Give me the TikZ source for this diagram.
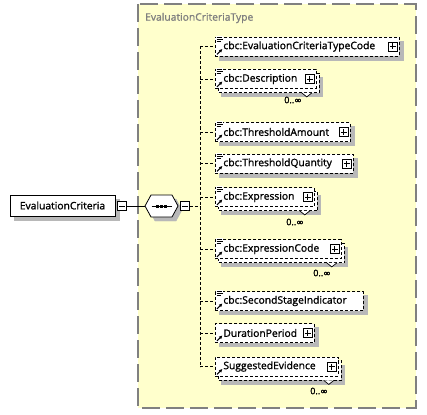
\documentclass[tikz,border=0pt]{standalone}
\usepackage{fontspec}
\setmainfont{Open Sans}[FakeBold=1.3]
\newfontfamily\symfont{DejaVu Sans}[FakeBold=1]
\usetikzlibrary{calc,arrows.meta}
\definecolor{bgyellow}{RGB}{255,255,204}
\definecolor{bordergray}{RGB}{128,128,128}
\definecolor{dropgray}{rgb}{0.72,0.72,0.72}
\tikzset{
  txt/.style={font=\fontsize{10.3}{12}\selectfont},
  elem/.style={draw=black, fill=white, dash pattern=on 3pt off 2pt, line width=0.8pt,
    minimum height=19pt, inner xsep=0pt, inner ysep=0pt, anchor=west, align=left, txt},
  pm/.style={draw=black, solid, fill=white, line width=0.7pt, minimum size=9pt, inner sep=0pt},
  plusbox/.style={pm, path picture={
      \draw[line width=0.7pt] ([xshift=1.5pt]path picture bounding box.west) -- ([xshift=-1.5pt]path picture bounding box.east);
      \draw[line width=0.7pt] ([yshift=-1.5pt]path picture bounding box.north) -- ([yshift=1.5pt]path picture bounding box.south);}},
  minusbox/.style={pm, path picture={
      \draw[line width=0.7pt] ([xshift=1.5pt]path picture bounding box.west) -- ([xshift=-1.5pt]path picture bounding box.east);}},
  conn/.style={line width=0.8pt, dash pattern=on 3pt off 2pt},
  mult/.style={font=\fontsize{9}{11}\selectfont},
  copybox/.style={fill=white, draw=black, line width=0.8pt, dash pattern=on 3pt off 2pt},
  shadowbox/.style={fill=dropgray, draw=dropgray, line width=0.5pt, minimum height=19pt, inner sep=0pt, anchor=west},
}
\newcommand\docicon[1]{%
  \fill[white] ($(#1.north west)+(1,-1)$) rectangle ($(#1.north west)+(8,6)$);
  \draw[line width=0.7pt] ($(#1.north west)+(1.5,0.5)$) -- ++(5.5,0);
  \draw[line width=0.7pt] ($(#1.north west)+(1.5,2.5)$) -- ++(6.5,0);
  \draw[line width=0.7pt] ($(#1.north west)+(1.5,4.5)$) -- ++(4,0);}
\newcommand\refarrow[1]{%
  \draw[line width=1pt, -{Latex[length=3.5pt,width=3.5pt]}] ($(#1.south west)+(2,-2)$) -- ($(#1.south west)+(7.5,-7.5)$);}
\newcommand\plusat[2]{\node[plusbox] (#2) at ($(#1.east)+(-7,0)$) {};}
\newcommand\notch[1]{%
  \filldraw[fill=white, line width=0.7pt] ($(#1.south east)+(-15,4)$) -- ($(#1.south east)+(-10,8)$) -- ($(#1.south east)+(-5,4)$);}
\newcommand\copyrect[1]{\filldraw[copybox] ($(#1.north west)+(3,4)$) rectangle ($(#1.south east)+(3,4)$);}
\newcommand\octpath[2]{(145+#1,206+#2) -- (151+#1,195+#2) -- (172+#1,195+#2) -- (178+#1,206+#2)
    -- (172+#1,217+#2) -- (151+#1,217+#2) -- cycle}
\begin{document}
\begin{tikzpicture}[x=1pt,y=-1pt]
\useasboundingbox (0,0) rectangle (427,414);
% outer complex type box
\draw[bordergray, fill=bgyellow, line width=1.2pt, dash pattern=on 18pt off 6pt] (138,4) rectangle (416,408);
\node[anchor=west, txt, text=bordergray, inner sep=0pt] (title) at (145,18) {EvaluationCriteriaType};

% shadows (as filled shapes offset down-right)
\node[shadowbox, minimum width=105pt, minimum height=21pt] (s0) at (14,209.5) {};
\filldraw[fill=dropgray, draw=dropgray] \octpath{4}{4};
\node[shadowbox, minimum width=184pt] (s1) at (219,50.5) {};
\node[shadowbox, minimum width=101pt] (s2) at (221,87) {};
\node[shadowbox, minimum width=135pt] (s3) at (219,136) {};
\node[shadowbox, minimum width=138pt] (s4) at (219,167.5) {};
\node[shadowbox, minimum width=99pt] (s5) at (221,205) {};
\node[shadowbox, minimum width=126pt] (s6) at (221,257) {};
\node[shadowbox, minimum width=148pt] (s7) at (219,305) {};
\node[shadowbox, minimum width=99pt] (s8) at (219,337) {};
\node[shadowbox, minimum width=123pt] (s9) at (221,374.5) {};

% root element
\node[draw=black, fill=white, line width=0.8pt, minimum width=105pt, minimum height=21pt, inner sep=0pt, txt] (ec) at (62.5,205.5) {EvaluationCriteria};
\node[minusbox] (ecm) at (122,206) {};

% sequence compositor
\node[minimum width=33pt, minimum height=22pt, inner sep=0pt] (seq) at (161.5,206) {};
\filldraw[fill=white, draw=black, line width=0.8pt] \octpath{0}{0};
\draw[line width=0.8pt] ($(seq.center)+(-10,0)$) -- ($(seq.center)+(10,0)$);
\foreach \dx in {-4,0,4} \fill ($(seq.center)+(\dx-1.5,-1.5)$) rectangle ++(3,3);
\node[minusbox] (sm) at (185,206) {};
\draw[line width=0.8pt] (ecm.east) -- (seq.west);

% copies behind repeated elements
\node[minimum width=101pt, minimum height=19pt, inner sep=0pt, anchor=west] (k2) at (215,79) {};
\node[minimum width=99pt, minimum height=19pt, inner sep=0pt, anchor=west] (k5) at (215,197) {};
\node[minimum width=126pt, minimum height=19pt, inner sep=0pt, anchor=west] (k6) at (215,249) {};
\node[minimum width=123pt, minimum height=19pt, inner sep=0pt, anchor=west] (k9) at (215,366.5) {};
\foreach \n in {k2,k5,k6,k9} {\copyrect{\n}}

% children
\node[elem, text width=184pt] (c1) at (215,46.5) {\hspace*{8pt}cbc:EvaluationCriteriaTypeCode};
\node[elem, text width=101pt] (c2) at (215,79) {\hspace*{8pt}cbc:Description};
\node[elem, text width=135pt] (c3) at (215,132) {\hspace*{8pt}cbc:ThresholdAmount};
\node[elem, text width=138pt] (c4) at (215,163.5) {\hspace*{8pt}cbc:ThresholdQuantity};
\node[elem, text width=99pt] (c5) at (215,197) {\hspace*{8pt}cbc:Expression};
\node[elem, text width=126pt] (c6) at (215,249) {\hspace*{8pt}cbc:ExpressionCode};
\node[elem, text width=148pt] (c7) at (215,301) {\hspace*{8pt}cbc:SecondStageIndicator};
\node[elem, text width=99pt] (c8) at (215,333) {\hspace*{8pt}DurationPeriod};
\node[elem, text width=123pt] (c9) at (215,366.5) {\hspace*{8pt}SuggestedEvidence};

\foreach \n in {c1,c2,c3,c4,c5,c6,c7} {\docicon{\n}}
\foreach \n in {c1,c2,c3,c4,c5,c6,c7,c8,c9} {\refarrow{\n}}
\plusat{c1}{p1}\plusat{c2}{p2}\plusat{c3}{p3}\plusat{c4}{p4}\plusat{c5}{p5}
\plusat{c6}{p6}\plusat{c8}{p8}\plusat{c9}{p9}
\foreach \n in {c2,c5,c6,c9} {\notch{\n}}

\node[mult] (m2) at (293,100) {0..{\symfont ∞}};
\node[mult] (m5) at (295,222) {0..{\symfont ∞}};
\node[mult] (m6) at (322,273) {0..{\symfont ∞}};
\node[mult] (m9) at (319,391) {0..{\symfont ∞}};

% connectors
\coordinate (bus) at (200,206);
\coordinate (bustop) at (200,46.5);
\coordinate (busbot) at (200,366.5);
\draw[conn] (sm.east) -- (bus);
\draw[conn] (bustop) -- (busbot);
\foreach \n in {c1,c2,c3,c4,c5,c6,c7,c8,c9} {\draw[conn] (\n.west -| bus) -- (\n.west);}
\end{tikzpicture}
\end{document}
